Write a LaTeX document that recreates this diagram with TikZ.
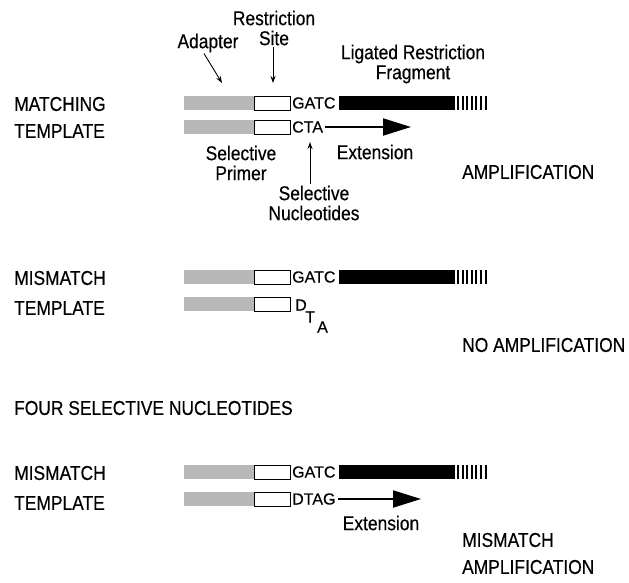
\documentclass[tikz,border=0pt]{standalone}
\usepackage{fontspec}
\setmainfont[FakeStretch=0.87,FakeBold=0.4]{Liberation Sans}
\newfontfamily\seqfont[FakeBold=0.3]{Liberation Sans}
\usetikzlibrary{arrows.meta}
\usetikzlibrary{positioning}

\tikzset{
  lbl/.style={font=\fontsize{20}{20}\selectfont, inner sep=1pt},
  seq/.style={font=\seqfont\fontsize{16}{16}\selectfont, inner sep=0pt, anchor=west},
  pointer/.style={-{Stealth[length=7pt,width=5pt]}, line width=0.9pt},
  extarrow/.style={-{Triangle[length=28pt,width=17pt]}, line width=2pt},
  adapterbar/.style={fill=black!28, draw=none},
  sitebox/.style={draw=black, fill=white, line width=0.9pt},
}

\begin{document}
\begin{tikzpicture}[x=1pt,y=-1pt]
\useasboundingbox (0,0) rectangle (629,582);

\foreach \t/\b in {103/127, 277/304, 472/499} {
  \fill[adapterbar] (184,\t-7) rectangle (254,\t+7);
  \draw[sitebox] (254,\t-7) rectangle (290,\t+7);
  \fill[adapterbar] (184,\b-7) rectangle (254,\b+7);
  \draw[sitebox] (254,\b-7) rectangle (290,\b+7);
  \node[seq] (gatc\t) at (292,\t) {GATC};
  \fill (339,\t-7) rectangle (455,\t+7);
  \foreach \i in {0,...,6} \draw[line width=2pt] (458+\i*4.6,\t-7) -- ++(0,14);
}

\node[lbl, align=center] (restr) at (274,28) {Restriction\\Site};
\node[lbl] (adapt) at (208,43) {Adapter};
\node[lbl, align=center] (lig) at (413,64) {Ligated Restriction\\Fragment};
\coordinate (sitept) at (273,83);
\coordinate (adpt) at (222,83);
\draw[pointer] (restr.south -| sitept) -- (sitept);
\draw[pointer] ([xshift=-4pt]adapt.south) -- (adpt);

\node[lbl, anchor=west] (match1) at (13,104) {MATCHING};
\node[lbl, anchor=west] (templ1) at (13,131) {TEMPLATE};
\node[seq] (cta) at (292,127) {CTA};
\coordinate (ext1tip) at (411,127);
\draw[extarrow, shorten <=2pt] (cta.east) -- (ext1tip);

\node[lbl, align=center] (primer) at (241,163) {Selective\\Primer};
\node[lbl] (ext1) at (375,152) {Extension};
\node[lbl, align=center] (nucl) at (314,203) {Selective\\Nucleotides};
\coordinate (selpt) at (310,142);
\draw[pointer] (nucl.north -| selpt) -- (selpt);
\node[lbl, anchor=west] (amp1) at (461,172) {AMPLIFICATION};

\node[lbl, anchor=west] (mis2) at (13,278) {MISMATCH};
\node[lbl, anchor=west] (templ2) at (13,308) {TEMPLATE};
\node[seq] (d2) at (295,305) {D};
\node[seq] (t2) at (305,317) {T};
\node[seq] (a2) at (317,327) {A};
\node[lbl, anchor=west] (noamp) at (461,345) {NO AMPLIFICATION};

\node[lbl, anchor=west] (four) at (13,408) {FOUR SELECTIVE NUCLEOTIDES};

\node[lbl, anchor=west] (mis3) at (13,473) {MISMATCH};
\node[lbl, anchor=west] (templ3) at (13,503) {TEMPLATE};
\node[seq] (dtag) at (292,499) {DTAG};
\coordinate (ext3tip) at (421,499);
\draw[extarrow, shorten <=2pt] (dtag.east) -- (ext3tip);
\node[lbl] (ext3) at (381,523) {Extension};
\node[lbl, anchor=west] (mis3r) at (461,540) {MISMATCH};
\node[lbl, anchor=west] (amp3) at (461,567) {AMPLIFICATION};

\end{tikzpicture}
\end{document}
